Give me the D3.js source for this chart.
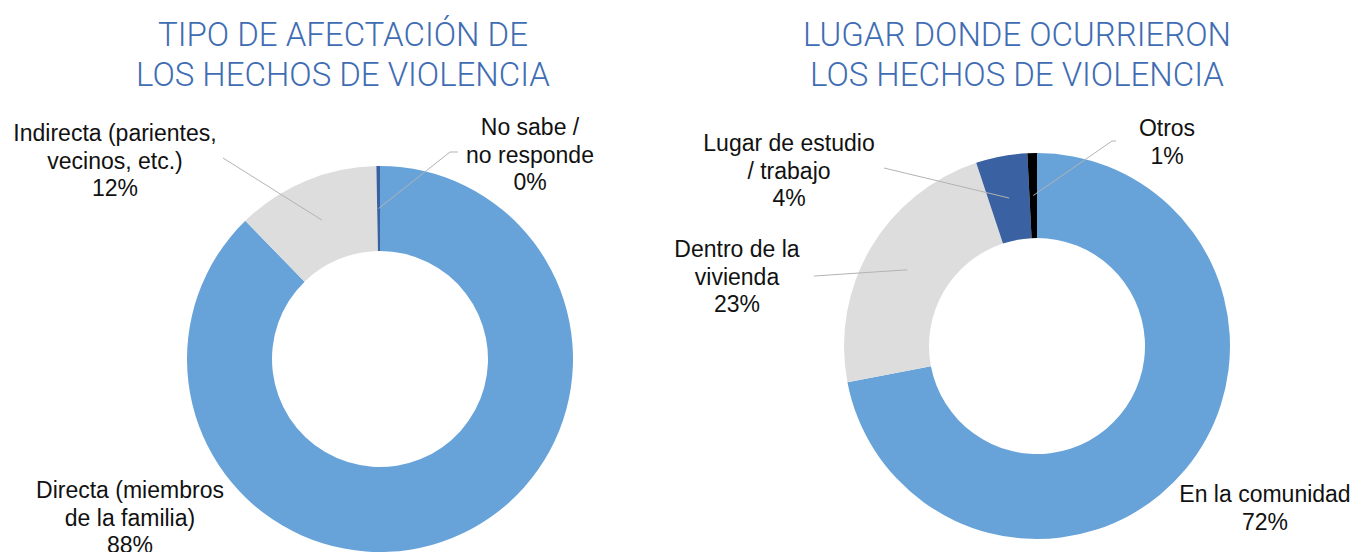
<!DOCTYPE html>
<html>
<head>
<meta charset="utf-8">
<script src="https://cdn.jsdelivr.net/npm/d3@7"></script>
<style>
  body { margin: 0; background: #fff; }
  svg { display: block; }
  .title { font-family: Roboto, "Liberation Sans", sans-serif; font-weight: 300; fill: #3f6db3; }
  .lbl { font-family: "Liberation Sans", Arial, sans-serif; fill: #111; }
</style>
</head>
<body>
<svg id="chart" width="1355" height="552"></svg>
<script>
// datos del grafico 1
var tipoCats = ['Directa (miembros|de la familia)', 'Indirecta (parientes,|vecinos, etc.)', 'No sabe /|no responde'];
var tipoVals = [87.7, 12.0, 0.3];
var tipoPct = ['88%', '12%', '0%'];

// datos del grafico 2
var lugarCats = ['En la comunidad', 'Dentro de la|vivienda', 'Lugar de estudio|/ trabajo', 'Otros'];
var lugarVals = [72.0, 22.9, 4.3, 0.8];
var lugarPct = ['72%', '23%', '4%', '1%'];

var colores1 = ['#67a3d9', '#dddddd', '#3a61a1'];
var colores2 = ['#67a3d9', '#dddddd', '#3a61a1', '#000000'];

var svg = d3.select('#chart');

function donut(opts) {
  var g = svg.append('g').attr('transform', 'translate(' + opts.cx + ',' + opts.cy + ')');
  var pie = d3.pie().sort(null).value(function (d) { return d; });
  var arc = d3.arc().innerRadius(108).outerRadius(193);
  var arcs = pie(opts.vals);

  g.selectAll('path')
    .data(arcs)
    .enter()
    .append('path')
    .attr('d', arc)
    .attr('fill', function (d, i) { return opts.colors[i]; });

  // titulo
  opts.title.forEach(function (t, i) {
    svg.append('text')
      .attr('class', 'title')
      .attr('x', opts.titleX)
      .attr('y', 46 + i * 40)
      .attr('text-anchor', 'middle')
      .style('font-size', '33px')
      .text(t);
  });

  // etiquetas
  arcs.forEach(function (a, i) {
    var pos = opts.labels[i];
    var lines = opts.cats[i].split('|').concat([opts.pct[i]]);
    var txt = svg.append('text')
      .attr('class', 'lbl')
      .attr('text-anchor', 'middle')
      .style('font-size', '23px');
    lines.forEach(function (l, j) {
      txt.append('tspan')
        .attr('x', pos.x)
        .attr('y', pos.y + j * 27.5)
        .text(l);
    });
    if (pos.line) {
      var c = arc.centroid(a);
      var pts = [[opts.cx + c[0], opts.cy + c[1]]].concat(pos.line);
      svg.append('path')
        .attr('d', d3.line()(pts))
        .attr('fill', 'none')
        .attr('stroke', '#b3b3b3')
        .attr('stroke-width', 1);
    }
  });
}

donut({
  cx: 380, cy: 359,
  vals: tipoVals, cats: tipoCats, pct: tipoPct, colors: colores1,
  title: ['TIPO DE AFECTACIÓN DE', 'LOS HECHOS DE VIOLENCIA'], titleX: 343,
  labels: [
    { x: 130, y: 498 },
    { x: 115, y: 141, line: [[223, 158]] },
    { x: 530, y: 135, line: [[450, 152], [458, 152]] }
  ]
});

donut({
  cx: 1037, cy: 346,
  vals: lugarVals, cats: lugarCats, pct: lugarPct, colors: colores2,
  title: ['LUGAR DONDE OCURRIERON', 'LOS HECHOS DE VIOLENCIA'], titleX: 1017,
  labels: [
    { x: 1265, y: 502 },
    { x: 737, y: 257, line: [[814, 276]] },
    { x: 789, y: 151, line: [[884, 168]] },
    { x: 1167, y: 136, line: [[1112, 141], [1116, 141]] }
  ]
});
</script>
</body>
</html>
